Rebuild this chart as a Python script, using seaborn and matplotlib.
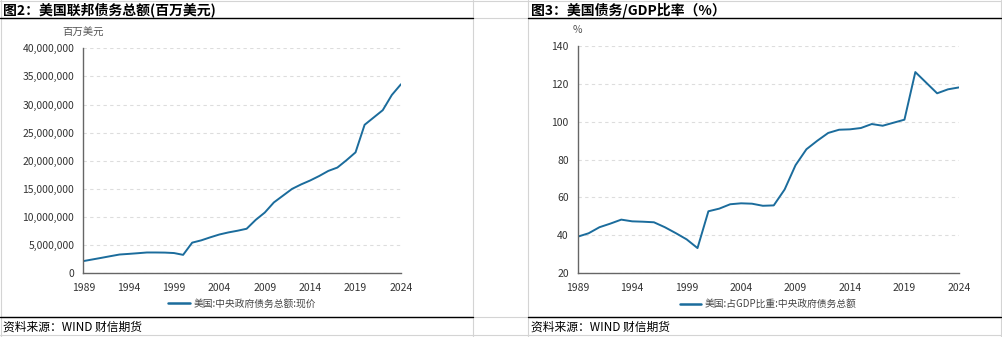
import matplotlib
matplotlib.use("Agg")
import matplotlib.pyplot as plt
import seaborn as sns
import pandas as pd
from matplotlib.lines import Line2D
from matplotlib.ticker import FuncFormatter, MultipleLocator

# ---------------- data ----------------
years = list(range(1989, 2025))
debt_musd = [2170000, 2460000, 2750000, 3050000, 3340000, 3450000, 3570000, 3700000,
             3700000, 3680000, 3600000, 3280000, 5450000, 5860000, 6400000, 6900000,
             7270000, 7570000, 7920000, 9500000, 10800000, 12600000, 13800000, 15000000,
             15800000, 16500000, 17300000, 18200000, 18800000, 20100000, 21500000,
             26400000, 27700000, 29000000, 31700000, 33600000]
debt_gdp = [39.3, 41.1, 44.3, 46.2, 48.3, 47.4, 47.2, 46.9, 44.3, 41.2, 37.9, 33.3,
            52.7, 54.1, 56.4, 56.9, 56.7, 55.6, 55.8, 64.2, 77.0, 85.4, 89.9, 94.0,
            95.7, 95.9, 96.6, 98.7, 97.8, 99.4, 101.0, 126.1, 120.5, 114.9, 117.0, 118.0]
x_ticks = [1989, 1994, 1999, 2004, 2009, 2014, 2019, 2024]
title_left = "图2：美国联邦债务总额(百万美元)"
title_right = "图3：美国债务/GDP比率（%）"
label_left = "美国:中央政府债务总额:现价"
label_right = "美国:占GDP比重:中央政府债务总额"
unit_left = "百万美元"
unit_right = "%"
source_text = "资料来源：WIND 财信期货"

# ---------------- style ----------------
sns.set_theme(style="white")
plt.rcParams['font.family'] = ['Noto Sans CJK SC', 'DejaVu Sans']
plt.rcParams['axes.unicode_minus'] = False

W, H = 1003, 337
fig = plt.figure(figsize=(W / 100, H / 100), dpi=100)
fig.patch.set_facecolor("white")

LINE_C = "#1b6c9c"
AX_C = "#666666"
TXT_C = "#333333"


def fx(px):
    return px / W


def fy(py):
    return 1 - py / H


def make_axes(l, r, t, b):
    return fig.add_axes([fx(l), fy(b), fx(r) - fx(l), fy(t) - fy(b)])


ax1 = make_axes(83.3, 400.9, 48.3, 273.3)
ax2 = make_axes(577.7, 958.9, 45.7, 273.3)

df1 = pd.DataFrame({"year": years, "value": debt_musd})
df2 = pd.DataFrame({"year": years, "value": debt_gdp})

sns.lineplot(data=df1, x="year", y="value", ax=ax1, color=LINE_C, linewidth=1.4,
             label=label_left)
sns.lineplot(data=df2, x="year", y="value", ax=ax2, color=LINE_C, linewidth=1.4,
             label=label_right)

ax1.set_ylim(0, 40000000)
ax1.yaxis.set_major_locator(MultipleLocator(5000000))
ax1.yaxis.set_major_formatter(FuncFormatter(lambda v, p: f"{v:,.0f}"))
ax2.set_ylim(20, 140)
ax2.yaxis.set_major_locator(MultipleLocator(20))

for ax in (ax1, ax2):
    ax.set_xlim(1989, 2024)
    ax.set_xticks(x_ticks)
    ax.set_xlabel("")
    ax.set_ylabel("")
    ax.set_facecolor("white")
    for s in ("top", "right"):
        ax.spines[s].set_visible(False)
    for s in ("left", "bottom"):
        ax.spines[s].set_color(AX_C)
        ax.spines[s].set_linewidth(1.0)
    ax.tick_params(axis="both", which="major", direction="out", length=5, width=0.9,
                   color=AX_C, labelsize=7.5, labelcolor=TXT_C, pad=1.5)
    ax.tick_params(axis="x", pad=2)
    ax.yaxis.grid(True, linestyle=(0, (3, 3)), color="#dddddd", linewidth=0.8)
    ax.xaxis.grid(False)
    ax.set_axisbelow(True)
    leg = ax.legend(loc="center", bbox_to_anchor=(0.5, -0.135), frameon=False,
                    fontsize=7, handlelength=2.2, handletextpad=0.4)
    for line in leg.get_lines():
        line.set_linewidth(1.8)
    for t in leg.get_texts():
        t.set_color("#444444")

# unit labels
fig.text(fx(83), fy(33), unit_left, ha="center", va="center", fontsize=7.5, color="#555555")
fig.text(fx(577), fy(30), unit_right, ha="center", va="center", fontsize=7.5, color="#555555")

# titles
fig.text(fx(3), fy(10), title_left, ha="left", va="center", fontsize=10,
         fontweight="bold", color="black")
fig.text(fx(531), fy(10), title_right, ha="left", va="center", fontsize=10,
         fontweight="bold", color="black")

# source notes
fig.text(fx(3), fy(327), source_text, ha="left", va="center", fontsize=8.5,
         style="italic", color="black")
fig.text(fx(531), fy(327), source_text, ha="left", va="center", fontsize=8.5,
         style="italic", color="black")

# table grid lines
GRAY = "#d4d4d4"


def hline(y, x0, x1, c, lw):
    fig.add_artist(Line2D([fx(x0), fx(x1)], [fy(y), fy(y)], color=c, linewidth=lw,
                          transform=fig.transFigure))


def vline(x, y0, y1, c, lw):
    fig.add_artist(Line2D([fx(x), fx(x)], [fy(y0), fy(y1)], color=c, linewidth=lw,
                          transform=fig.transFigure))


hline(1, 0, 1003, GRAY, 0.8)
hline(18, 0, 1003, GRAY, 0.8)
hline(317, 0, 1003, GRAY, 0.8)
hline(334.5, 0, 1003, GRAY, 0.8)
vline(0.8, 0, 337, GRAY, 0.8)
vline(473, 0, 337, GRAY, 0.8)
vline(528, 0, 337, GRAY, 0.8)
vline(1001.5, 0, 337, GRAY, 0.8)
hline(18, 0, 473, "black", 1.0)
hline(18, 528, 1001.5, "black", 1.0)
hline(317, 0, 473, "black", 1.0)
hline(317, 528, 1001.5, "black", 1.0)

fig.savefig("out.png", dpi=100, facecolor="white")
